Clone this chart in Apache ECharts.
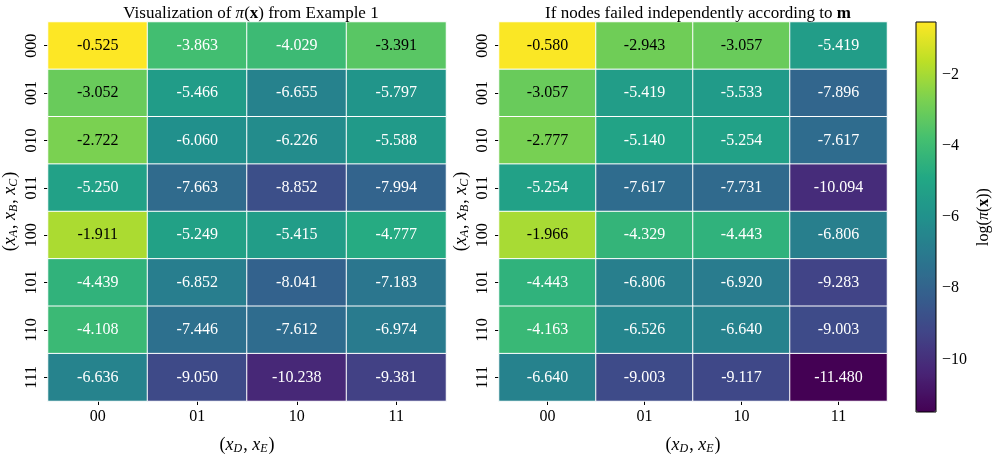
<!DOCTYPE html>
<html>
<head>
<meta charset="utf-8">
<script src="https://cdn.jsdelivr.net/npm/echarts@6/dist/echarts.min.js"></script>
<style>html,body{margin:0;padding:0;background:#fff}#c{width:997px;height:460px}</style>
</head>
<body>
<div id="c"></div>
<script>
const colLabels = ['00', '01', '10', '11'];
const rowLabels = ['000', '001', '010', '011', '100', '101', '110', '111'];
const leftValues = [
  [-0.525, -3.863, -4.029, -3.391],
  [-3.052, -5.466, -6.655, -5.797],
  [-2.722, -6.060, -6.226, -5.588],
  [-5.250, -7.663, -8.852, -7.994],
  [-1.911, -5.249, -5.415, -4.777],
  [-4.439, -6.852, -8.041, -7.183],
  [-4.108, -7.446, -7.612, -6.974],
  [-6.636, -9.050, -10.238, -9.381]
];
const rightValues = [
  [-0.580, -2.943, -3.057, -5.419],
  [-3.057, -5.419, -5.533, -7.896],
  [-2.777, -5.140, -5.254, -7.617],
  [-5.254, -7.617, -7.731, -10.094],
  [-1.966, -4.329, -4.443, -6.806],
  [-4.443, -6.806, -6.920, -9.283],
  [-4.163, -6.526, -6.640, -9.003],
  [-6.640, -9.003, -9.117, -11.480]
];
const colorbarTicks = [-10, -8, -6, -4, -2];
const vMin = -11.48, vMax = -0.525;

const viridis = ['#440154', '#482475', '#414487', '#355f8d', '#2a788e', '#21918c', '#22a884', '#44bf70', '#7ad151', '#bddf26', '#fde725'];
const FONT = 'Liberation Serif';

function build(values) {
  const out = [];
  values.forEach((row, r) => row.forEach((v, c) => {
    out.push({ value: [c, r, v], label: { color: v > -3.6 ? '#000' : '#fff' } });
  }));
  return out;
}

const mathRich = {
  n: { fontFamily: FONT, fontSize: 18, color: '#000' },
  i: { fontFamily: FONT, fontSize: 18, fontStyle: 'italic', color: '#000' },
  s: { fontFamily: FONT, fontSize: 12, fontStyle: 'italic', color: '#000', padding: [8, 1, 0, 0] }
};
const yName = '{n|(}{i|x}{s|A}{n|, }{i|x}{s|B}{n|, }{i|x}{s|C}{n|)}';
const xName = '{n|(}{i|x}{s|D}{n|, }{i|x}{s|E}{n|)}';

function catX(idx) {
  return {
    type: 'category', gridIndex: idx, data: colLabels, position: 'bottom',
    axisLine: { show: false },
    axisTick: { show: true, length: 4, alignWithLabel: true, lineStyle: { color: '#000' } },
    axisLabel: { fontFamily: FONT, fontSize: 16, color: '#000', margin: 8 },
    splitArea: { show: false }, splitLine: { show: false },
    name: xName, nameLocation: 'middle', nameGap: 34, nameTextStyle: { rich: mathRich }
  };
}
function catY(idx) {
  return {
    type: 'category', gridIndex: idx, data: rowLabels, inverse: true,
    axisLine: { show: false },
    axisTick: { show: true, length: 4, alignWithLabel: true, lineStyle: { color: '#000' } },
    axisLabel: { fontFamily: FONT, fontSize: 16, color: '#000', rotate: 90, margin: 8 },
    splitArea: { show: false }, splitLine: { show: false },
    name: yName, nameLocation: 'middle', nameRotate: 90, nameGap: 28, nameTextStyle: { rich: mathRich }
  };
}

const chart = echarts.init(document.getElementById('c'));
chart.setOption({
  backgroundColor: '#fff',
  animation: false,
  title: [
    { text: 'Visualization of {i|π}({b|x}) from Example 1', left: 246, top: 0, textAlign: 'center',
      textStyle: { fontFamily: FONT, fontSize: 17, fontWeight: 'normal', color: '#000',
        rich: { i: { fontFamily: FONT, fontSize: 17, fontStyle: 'italic', color: '#000' },
                b: { fontFamily: FONT, fontSize: 17, fontWeight: 'bold', color: '#000' } } } },
    { text: 'If nodes failed independently according to {b|m}', left: 693, top: 0, textAlign: 'center',
      textStyle: { fontFamily: FONT, fontSize: 17, fontWeight: 'normal', color: '#000',
        rich: { b: { fontFamily: FONT, fontSize: 17, fontWeight: 'bold', color: '#000' } } } }
  ],
  grid: [
    { left: 48, top: 22, width: 398, height: 390 },
    { left: 499, top: 22, width: 388, height: 390 },
    { left: 916, top: 22, width: 20, height: 390, show: true, borderColor: '#000', borderWidth: 1, backgroundColor: 'transparent', z: 10 }
  ],
  xAxis: [catX(0), catX(1), { type: 'value', gridIndex: 2, show: false, min: 0, max: 1 }],
  yAxis: [catY(0), catY(1), {
    type: 'value', gridIndex: 2, position: 'right', min: vMin, max: vMax,
    axisLine: { show: false }, splitLine: { show: false },
    axisTick: { show: true, length: 4, lineStyle: { color: '#000' }, customValues: colorbarTicks },
    axisLabel: { fontFamily: FONT, fontSize: 16, color: '#000', margin: 6, customValues: colorbarTicks,
      formatter: v => (v < 0 ? '\u2212' : '') + Math.abs(v) },
    name: '{n|log(}{i|π}{n|(}{b|x}{n|))}', nameLocation: 'middle', nameRotate: 90, nameGap: 40,
    nameTextStyle: { rich: { n: { fontFamily: FONT, fontSize: 16, color: '#000' }, i: { fontFamily: FONT, fontSize: 16, fontStyle: 'italic', color: '#000' }, b: { fontFamily: FONT, fontSize: 16, fontWeight: 'bold', color: '#000' } } }
  }],
  visualMap: {
    type: 'continuous', min: vMin, max: vMax, seriesIndex: [0, 1],
    inRange: { color: viridis }, calculable: false, showLabel: false, text: ['', ''],
    left: 916, top: 22, itemWidth: 20, itemHeight: 390, padding: 0, orient: 'vertical'
  },
  series: [0, 1].map(i => ({
    type: 'heatmap', xAxisIndex: i, yAxisIndex: i,
    data: build(i === 0 ? leftValues : rightValues),
    itemStyle: { borderColor: '#fff', borderWidth: 1 },
    label: { show: true, fontFamily: FONT, fontSize: 16, formatter: p => p.value[2].toFixed(3) },
    emphasis: { disabled: true }
  }))
});
</script>
</body>
</html>
